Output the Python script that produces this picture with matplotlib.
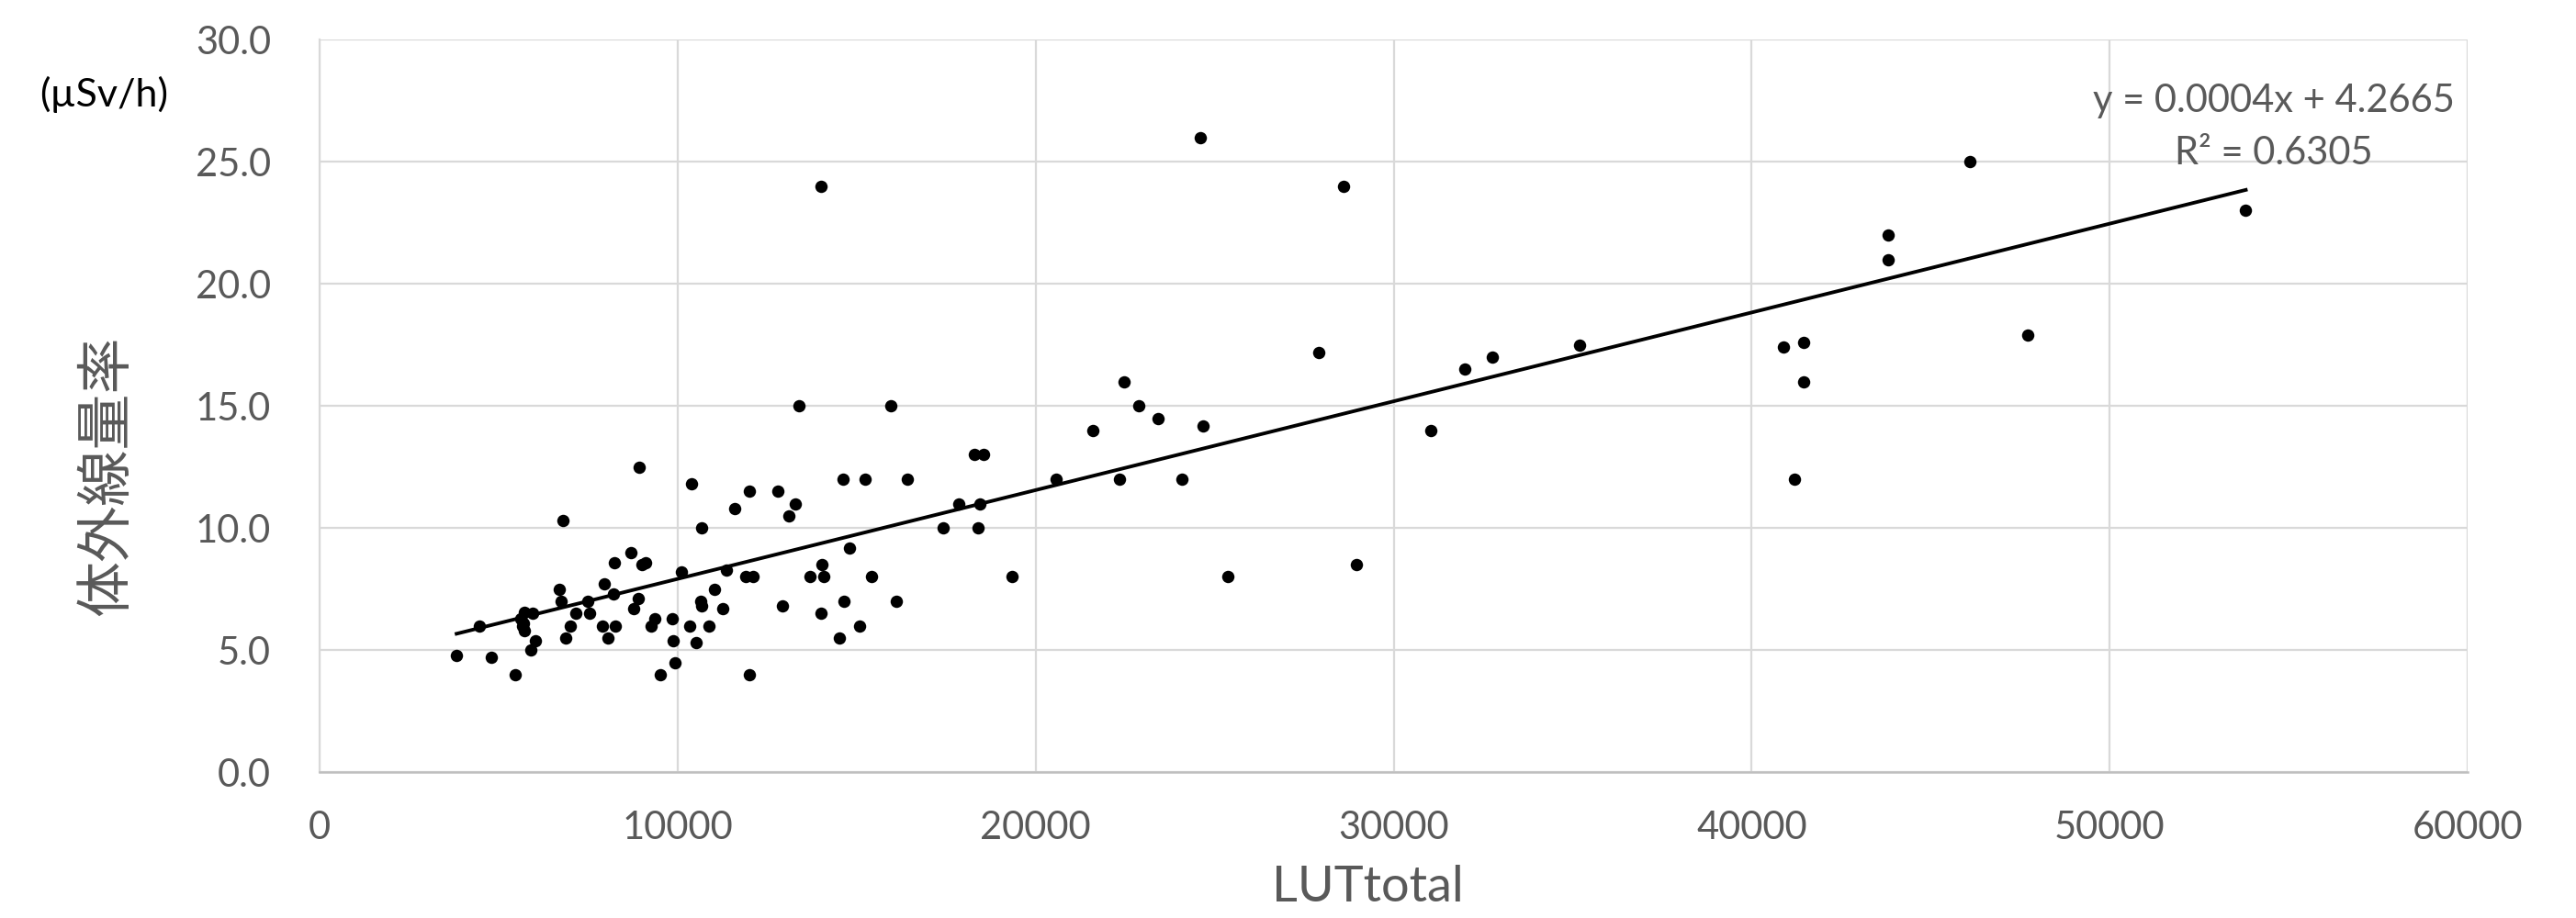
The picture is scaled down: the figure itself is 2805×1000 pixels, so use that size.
import numpy as np
import matplotlib.pyplot as plt
from matplotlib.ticker import FormatStrFormatter

# LUTtotal vs 体外線量率 (µSv/h)
lut_total = [
    3830, 4460, 4800, 5460, 5900, 6030, 5730, 5960, 5620, 5700,
    5660, 5720, 6690, 6750, 6800, 7000, 6870, 7170, 7500, 7540,
    7950, 7910, 8050, 8260, 8220, 8240, 8700, 8900, 8780, 8940,
    9000, 9100, 9270, 9360, 9530, 9850, 9890, 9940, 10100, 10330,
    10400, 10510, 10660, 10680, 10680, 10890, 11030, 11260, 11370, 11600,
    11900, 12000, 12000, 12100, 12800, 12920, 13100, 13300, 13400, 13690,
    14010, 14030, 14090, 14000, 14520, 14620, 14650, 14800, 15080, 15230,
    15410, 15970, 16100, 16430, 17420, 17850, 18280, 18390, 18440, 18550,
    19340, 20570, 21600, 22350, 22480, 22880, 23420, 24100, 24600, 24680,
    25380, 27900, 28600, 28950, 31050, 32000, 32750, 35200, 40900, 41200,
    41450, 41450, 43800, 43800, 46100, 47700, 53800,
]
dose_rate = [
    4.8, 6.0, 4.7, 4.0, 5.0, 5.4, 6.55, 6.5, 6.3, 6.1,
    6.0, 5.8, 7.5, 7.0, 10.3, 6.0, 5.5, 6.5, 7.0, 6.5,
    7.7, 6.0, 5.5, 6.0, 7.3, 8.6, 9.0, 7.1, 6.7, 12.5,
    8.5, 8.6, 6.0, 6.3, 4.0, 6.3, 5.4, 4.5, 8.2, 6.0,
    11.8, 5.3, 7.0, 6.8, 10.0, 6.0, 7.5, 6.7, 8.3, 10.8,
    8.0, 11.5, 4.0, 8.0, 11.5, 6.8, 10.5, 11.0, 15.0, 8.0,
    6.5, 8.5, 8.0, 24.0, 5.5, 12.0, 7.0, 9.2, 6.0, 12.0,
    8.0, 15.0, 7.0, 12.0, 10.0, 11.0, 13.0, 10.0, 11.0, 13.0,
    8.0, 12.0, 14.0, 12.0, 16.0, 15.0, 14.5, 12.0, 26.0, 14.2,
    8.0, 17.2, 24.0, 8.5, 14.0, 16.5, 17.0, 17.5, 17.4, 12.0,
    17.6, 16.0, 22.0, 21.0, 25.0, 17.9, 23.0,
]
x_ticks = [0, 10000, 20000, 30000, 40000, 50000, 60000]
y_ticks = [0, 5, 10, 15, 20, 25, 30]
eq_lines = ["y = 0.0004x + 4.2665", "R² = 0.6305"]

GREY = "#595959"
GRID = "#d9d9d9"

x = np.array(lut_total, dtype=float)
y = np.array(dose_rate, dtype=float)

fig = plt.figure(figsize=(28.05, 10), dpi=100)
ax = fig.add_axes([0.124, 0.1587, 0.834, 0.798])

ax.scatter(x, y, s=94, color="black", zorder=3, linewidths=0)

# linear trendline over the data range
slope, intercept = np.polyfit(x, y, 1)
xs = np.array([x.min(), x.max()])
ax.plot(xs, slope * xs + intercept, color="black", lw=2.8, zorder=2)

ax.set_xlim(0, 60000)
ax.set_ylim(0, 30)
ax.set_xticks(x_ticks)
ax.set_yticks(y_ticks)
ax.yaxis.set_major_formatter(FormatStrFormatter("%.1f"))
ax.grid(True, color=GRID, lw=1.6, zorder=0)
ax.set_axisbelow(True)
for side in ["top", "right"]:
    ax.spines[side].set_visible(False)
ax.spines["left"].set_color(GRID)
ax.spines["left"].set_linewidth(1.6)
ax.spines["bottom"].set_color("#bfbfbf")
ax.spines["bottom"].set_linewidth(1.8)
ax.tick_params(axis="both", length=0, labelcolor=GREY, labelsize=30)
ax.tick_params(axis="y", pad=38)
ax.tick_params(axis="x", pad=30)
for lbl in ax.get_xticklabels() + ax.get_yticklabels():
    lbl.set_family(["Lato", "DejaVu Sans"])

ax.text(54570, 27.5, eq_lines[0], ha="center", va="center", fontsize=30,
        color=GREY, family=["Lato", "DejaVu Sans"])
ax.text(54570, 25.35, eq_lines[1], ha="center", va="center", fontsize=30,
        color=GREY, family=["Lato", "DejaVu Sans"])

fig.text(0.0417, 0.482, "体外線量率", rotation=90, ha="center", va="center",
         fontsize=44, color=GREY, family=["Noto Sans CJK JP", "DejaVu Sans"])
fig.text(0.0153, 0.897, "(µSv/h)", ha="left", va="center", fontsize=31,
         color="black", family=["Lato", "DejaVu Sans"])
fig.text(0.531, 0.034, "LUTtotal", ha="center", va="center", fontsize=39,
         color=GREY, family=["Lato", "DejaVu Sans"])

fig.savefig("out.png", dpi=100)
